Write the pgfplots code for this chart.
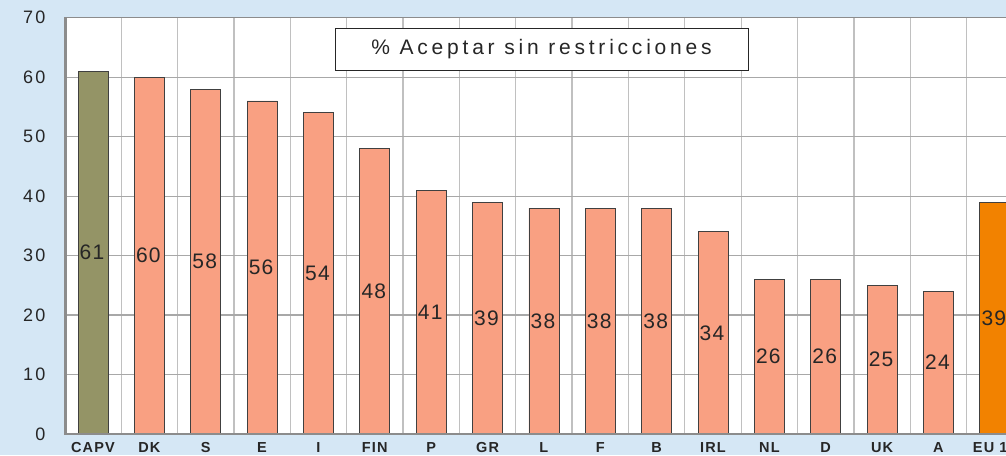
\documentclass[border=0pt]{standalone}
\usepackage{fontspec}
\setmainfont{Liberation Sans}
\newfontfamily\titlefont[LetterSpace=18]{Liberation Sans}
\newfontfamily\tickfont[LetterSpace=12]{Liberation Sans}
\newfontfamily\numfont[LetterSpace=6]{Liberation Sans}
\newfontfamily\catfont[LetterSpace=8]{Liberation Sans}
\usepackage{pgfplots}
\pgfplotsset{compat=1.18}

\definecolor{bgblue}{HTML}{D5E7F5}
\definecolor{capv}{HTML}{949466}
\definecolor{salmon}{HTML}{F9A082}
\definecolor{euorange}{HTML}{F28200}
\definecolor{hgrid}{HTML}{A8A8A8}
\definecolor{vgrid}{HTML}{C0C0C0}
\definecolor{axisgray}{HTML}{8C8C8C}

\begin{document}
\begin{tikzpicture}[x=1pt,y=1pt]
\useasboundingbox (0,0) rectangle (1006,455);
\fill[bgblue] (0,0) rectangle (1006,455);
\clip (0,0) rectangle (1006,455);
\begin{axis}[
    at={(64.8pt,21pt)}, anchor=south west,
    scale only axis,
    width=958.2pt, height=416.3pt,
    axis background/.style={fill=white},
    xmin=-0.5, xmax=16.5,
    ymin=0, ymax=70,
    xtick={0,...,16},
    xticklabels={CAPV,DK,S,E,I,FIN,P,GR,L,F,B,IRL,NL,D,UK,A,EU 15},
    minor xtick={-0.5,0.5,...,16.5},
    ytick={0,10,...,70},
    xminorgrids, ymajorgrids,
    minor grid style={vgrid, line width=1.3pt},
    major grid style={hgrid, line width=1.2pt},
    major tick length=0pt, minor tick length=0pt,
    axis line style={draw=axisgray, line width=1pt},
    /pgf/number format/assume math mode=true,
    yticklabel style={font=\tickfont\fontsize{18}{18}\selectfont, text=black!85, xshift=-16pt},
    xticklabel style={font=\catfont\bfseries\fontsize{14.5}{15}\selectfont, text=black!85, yshift=-5pt},
    visualization depends on={rawy/2 \as \halfy},
    nodes near coords,
    every node near coord/.append style={anchor=center, font=\numfont\fontsize{21}{21}\selectfont,
        text=black!85, xshift=-1pt, shift={(axis direction cs:0,-\halfy)}},
]
\addplot[ybar, bar width=30pt, bar shift=0pt, fill=capv, draw=black!75, line width=0.8pt]
    coordinates {(0,61)};
\addplot[ybar, bar width=30pt, bar shift=0pt, fill=salmon, draw=black!75, line width=0.8pt]
    coordinates {(1,60) (2,58) (3,56) (4,54) (5,48) (6,41) (7,39) (8,38)
                 (9,38) (10,38) (11,34) (12,26) (13,26) (14,25) (15,24)};
\addplot[ybar, bar width=30pt, bar shift=0pt, fill=euorange, draw=black!75, line width=0.8pt]
    coordinates {(16,39)};
\draw[axisgray, line width=4pt] (axis cs:-0.5,0) -- (axis cs:-0.5,70);
\draw[axisgray, line width=3pt] (axis cs:-0.5,0) -- (axis cs:16.5,0);
\end{axis}
\node[draw=black!85, fill=white, line width=0.8pt, minimum width=413pt, minimum height=42pt,
      inner sep=0pt, font=\titlefont\fontsize{21}{21}\selectfont, text=black!85]
    at (541.5,406) {\% Aceptar sin restricciones};
\end{tikzpicture}
\end{document}
